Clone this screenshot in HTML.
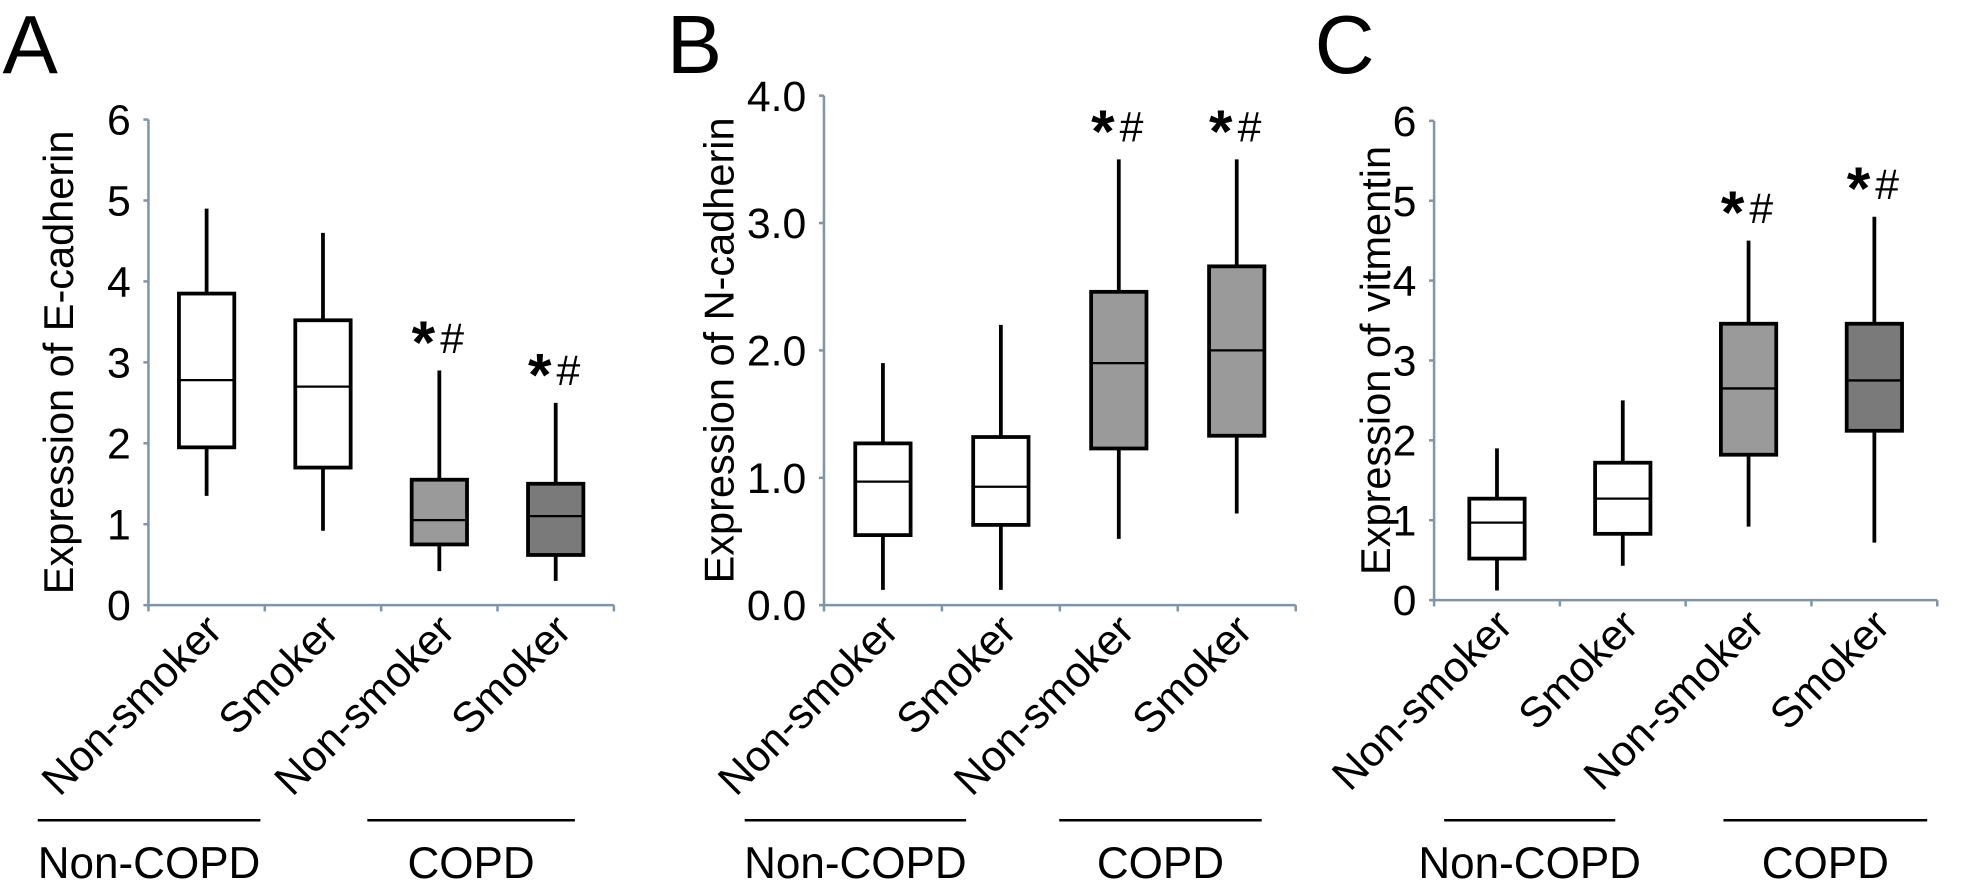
<!DOCTYPE html>
<html><head><meta charset="utf-8"><style>
html,body{margin:0;padding:0;background:#fff;}
svg{display:block;font-family:"Liberation Sans",Arial,sans-serif;}
</style></head>
<body>
<svg id="fig" width="1975" height="887" viewBox="0 0 1570 705" xmlns="http://www.w3.org/2000/svg"></svg>
<script>
const categories = ["Non-smoker","Smoker","Non-smoker","Smoker"];
const groups = ["Non-COPD","COPD"];
// [whiskerLow, q1, median, q3, whiskerHigh]
const eCadherin = [[1.35,1.95,2.78,3.85,4.9],[0.92,1.7,2.7,3.52,4.6],[0.42,0.75,1.05,1.55,2.9],[0.3,0.62,1.1,1.5,2.5]];
const nCadherin = [[0.12,0.55,0.97,1.27,1.9],[0.12,0.63,0.93,1.32,2.2],[0.52,1.23,1.9,2.46,3.5],[0.72,1.33,2.0,2.66,3.5]];
const vimentin = [[0.12,0.52,0.97,1.27,1.9],[0.43,0.83,1.27,1.72,2.5],[0.92,1.82,2.65,3.46,4.5],[0.72,2.12,2.75,3.46,4.8]];
const ticksE = [0,1,2,3,4,5,6];
const ticksN = ["0.0","1.0","2.0","3.0","4.0"];
const ticksV = [0,1,2,3,4,5,6];
const sigE = [false,false,true,true];
const sigN = [false,false,true,true];
const sigV = [false,false,true,true];

const NS="http://www.w3.org/2000/svg";
const svg=document.getElementById('fig');
function mk(tag,attrs,parent){const e=document.createElementNS(NS,tag);for(const k in attrs)e.setAttribute(k,attrs[k]);(parent||svg).appendChild(e);return e;}

function panel(cfg){
  const g=mk('g',{});
  
  
  const tv=cfg.ticks.map(Number), top=tv[tv.length-1];
  const y=v=>cfg.y0-(v/top)*(cfg.y0-cfg.yTop);
  const slot=(cfg.x1-cfg.x0)/categories.length;
  const x=i=>cfg.x0+slot*(i+0.5);
  const L=mk('text',{x:cfg.lx,y:58,'font-size':66},g);L.textContent=cfg.letter;
  
  
  const ax=mk('path',{d:`M${cfg.x0} ${cfg.yTop}V${cfg.y0}H${cfg.x1}`,stroke:'#7f95a8','stroke-width':2,fill:'none'},g);
  
  
  cfg.ticks.forEach((t,i)=>{
    const yy=y(tv[i]);
    mk('line',{x1:cfg.x0-4,x2:cfg.x0,y1:yy,y2:yy,stroke:'#7f95a8','stroke-width':2},g);
    const tl=mk('text',{x:cfg.x0-14,y:yy+12,'font-size':34,'text-anchor':'end'},g);tl.textContent=t;
    
    
  });
  for(let i=0;i<=categories.length;i++){const xx=cfg.x0+slot*i;mk('line',{x1:xx,x2:xx,y1:cfg.y0,y2:cfg.y0+5,stroke:'#7f95a8','stroke-width':2},g);}
  const yt=mk('text',{transform:`translate(${cfg.tx},${(cfg.y0+cfg.yTop)/2}) rotate(-90)`,'font-size':33,'text-anchor':'middle'},g);
  yt.textContent=cfg.title;
  
  
  cfg.data.forEach((d,i)=>{
    const cx=x(i),w=44;
    const wh=mk('path',{d:`M${cx} ${y(d[0])}V${y(d[1])}M${cx} ${y(d[3])}V${y(d[4])}`,stroke:'#000','stroke-width':3},g);
    
    
    const b=mk('rect',{x:cx-w/2,y:y(d[3]),width:w,height:y(d[1])-y(d[3]),fill:cfg.fills[i],stroke:'#000','stroke-width':3},g);
    
    
    const m=mk('line',{x1:cx-w/2,x2:cx+w/2,y1:y(d[2]),y2:y(d[2]),stroke:'#000','stroke-width':1.8},g);
    
    
    if(cfg.sig[i]){
      const s=mk('text',{x:cx-22,y:y(d[4])-14,'font-size':34},g);
      s.innerHTML='<tspan font-size="48" font-weight="bold" dy="8">*</tspan><tspan dx="4" dy="-8">#</tspan>';
      
      
    }
    const cl=mk('text',{transform:`translate(${cx+14},${cfg.y0+22}) rotate(-45)`,'font-size':34,'text-anchor':'end'},g);
    cl.textContent=categories[i];
    
    
  });
  cfg.groupLines.forEach((gl,k)=>{
    const ln=mk('line',{x1:gl[0],x2:gl[1],y1:652,y2:652,stroke:'#000','stroke-width':2},g);
    
    
    const t=mk('text',{x:(gl[0]+gl[1])/2,y:698,'font-size':35,'text-anchor':'middle'},g);
    t.textContent=groups[k];
    
    
  });
}
panel({id:'a',letter:'A',lx:2,x0:118,x1:488,y0:481,yTop:95,ticks:ticksE,data:eCadherin,sig:sigE,title:'Expression of E-cadherin',tx:58,fills:['#fff','#fff','#9a9a9a','#7a7a7a'],groupLines:[[30,207],[292,457]]});
panel({id:'b',letter:'B',lx:530,x0:655,x1:1030,y0:481,yTop:76,ticks:ticksN,data:nCadherin,sig:sigN,title:'Expression of N-cadherin',tx:583,fills:['#fff','#fff','#9a9a9a','#9a9a9a'],groupLines:[[592,768],[842,1003]]});
panel({id:'c',letter:'C',lx:1045,x0:1140,x1:1540,y0:477,yTop:96,ticks:ticksV,data:vimentin,sig:sigV,title:'Expression of vitmentin',tx:1105,fills:['#fff','#fff','#9a9a9a','#7a7a7a'],groupLines:[[1148,1284],[1370,1532]]});
</script>
</body></html>
